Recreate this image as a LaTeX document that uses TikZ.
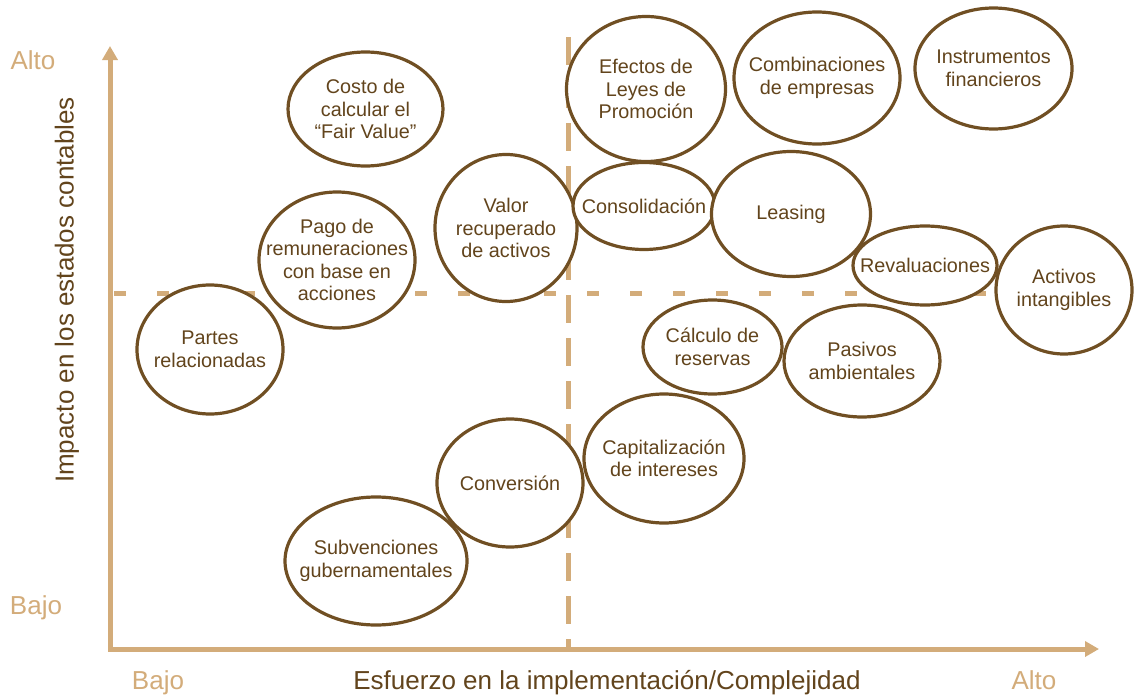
\documentclass[tikz,border=0pt]{standalone}
\usepackage{fontspec}
\setmainfont{Liberation Sans}
\usepackage{xcolor}
\usepackage{tikz}
\usetikzlibrary{arrows.meta, positioning, shapes.geometric}

\definecolor{axistan}{RGB}{211,172,122}
\definecolor{rimbrown}{RGB}{112,79,35}
\definecolor{inkbrown}{RGB}{98,68,28}

\begin{document}
\begin{tikzpicture}[
    x=1pt, y=-1pt,
    bubble/.style={
        ellipse,
        draw=rimbrown,
        line width=3.2pt,
        fill=white,
        text=inkbrown,
        align=center,
        inner sep=-40pt,
        font=\fontsize{19.8}{22.5}\selectfont
    },
    axis/.style={
        line width=5pt,
        draw=axistan,
        line join=miter,
        {Triangle[length=14pt,width=15pt]}-{Triangle[length=14pt,width=15pt]}
    },
    guide/.style={
        line width=5pt,
        draw=axistan
    },
    rank/.style={
        text=axistan,
        anchor=base,
        font=\fontsize{26}{30}\selectfont
    },
    title/.style={
        text=inkbrown,
        font=\fontsize{26}{30}\selectfont
    }
]
\useasboundingbox (0,0) rectangle (1141,696);

% axes and quadrant guides
\coordinate (origin) at (110,649);
\coordinate (ytop) at (110,46);
\coordinate (xend) at (1099,649);
\coordinate (vtop) at (568,37);
\coordinate (vbot) at (568,648);
\coordinate (hleft) at (114,293);
\coordinate (hright) at (1141,293);

\draw[guide, dash pattern=on 28pt off 15pt] (vtop) -- (vbot);
\draw[guide, dash pattern=on 12pt off 31pt] (hleft) -- (hright);
\draw[axis] (ytop) -- (origin) -- (xend);

% axis labels
\node[rank] (altoy) at (33,69) {Alto};
\node[rank] (bajoy) at (36,614) {Bajo};
\node[rank] (bajox) at (158,689) {Bajo};
\node[rank] (altox) at (1034,689) {Alto};
\node[title, anchor=base] (esfuerzo) at (607,689) {Esfuerzo en la implementación/Complejidad};
\node[title, rotate=90] (impacto) at (67,290) {Impacto en los estados contables};

% low effort
\node[bubble, minimum width=155pt, minimum height=114pt] (costo) at (365.5,109) {Costo de\\calcular el\\“Fair Value”};
\node[bubble, minimum width=156pt, minimum height=136pt] (pago) at (337,260) {Pago de\\remuneraciones\\con base en\\acciones};
\node[bubble, minimum width=146pt, minimum height=129pt] (partes) at (210,349.5) {Partes\\relacionadas};
\node[bubble, minimum width=142pt, minimum height=147pt] (valor) at (506,228) {Valor\\recuperado\\de activos};
\node[bubble, minimum width=146pt, minimum height=128pt] (conversion) at (510,483) {Conversión};
\node[bubble, minimum width=182pt, minimum height=128pt] (subvenciones) at (376,561) {Subvenciones\\gubernamentales};

% high effort
\node[bubble, minimum width=159pt, minimum height=145pt] (efectos) at (646,89) {Efectos de\\Leyes de\\Promoción};
\node[bubble, minimum width=166pt, minimum height=132pt] (combinaciones) at (817,78) {Combinaciones\\de empresas};
\node[bubble, minimum width=157pt, minimum height=121pt] (instrumentos) at (993.5,68.5) {Instrumentos\\financieros};
\node[bubble, minimum width=142pt, minimum height=87pt] (consolidacion) at (644,206) {Consolidación};
\node[bubble, minimum width=159pt, minimum height=125pt] (leasing) at (791,214) {Leasing};
\node[bubble, minimum width=144pt, minimum height=79pt] (revaluaciones) at (925,265.5) {Revaluaciones};
\node[bubble, minimum width=136pt, minimum height=128pt] (activos) at (1064,290) {Activos\\intangibles};
\node[bubble, minimum width=139pt, minimum height=94pt] (reservas) at (712.5,347) {Cálculo de\\reservas};
\node[bubble, minimum width=156pt, minimum height=112pt] (pasivos) at (862,361) {Pasivos\\ambientales};
\node[bubble, minimum width=160pt, minimum height=129pt] (capitalizacion) at (664,458.5) {Capitalización\\de intereses};

\end{tikzpicture}
\end{document}
